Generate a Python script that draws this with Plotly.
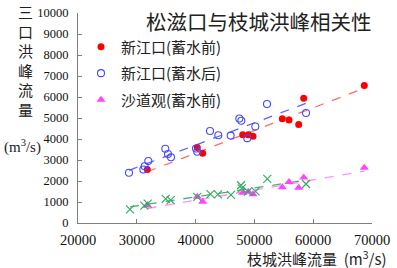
import numpy as np
import plotly.graph_objects as go

# 新江口(蓄水前)
xj_before_x = [31786, 40289, 41207, 48010, 48963, 49762, 54745, 55884, 57534, 58384, 68690]
xj_before_y = [2548, 3594, 3318, 4207, 4207, 4133, 4963, 4899, 4686, 5945, 6544]
# 新江口(蓄水后)
xj_after_x = [28673, 31111, 31338, 31956, 34847, 35306, 35816, 40068, 40289, 42449, 43861,
              45964, 47432, 47772, 48793, 50153, 52143, 58776]
xj_after_y = [2396, 2548, 2705, 2949, 3535, 3286, 3134, 3548, 3396, 4378, 4180,
              4161, 4977, 4871, 4041, 4594, 5668, 5239]
# 沙道观(蓄水前)
sd_before_x = [31786, 40289, 41207, 48010, 48963, 49762, 54745, 55884, 57534, 58384, 68690]
sd_before_y = [830, 1250, 1010, 1442, 1488, 1368, 1705, 1949, 1673, 2166, 2627]
# 沙道观(蓄水后)
sd_after_x = [28844, 31276, 31854, 34915, 35765, 40289, 42530, 43810, 46020, 47721, 47840,
              48900, 50190, 52194, 58776]
sd_after_y = [645, 829, 921, 1152, 1092, 1244, 1375, 1368, 1343, 1797, 1645,
              1490, 1505, 2106, 1857]

x_ticks = [20000, 30000, 40000, 50000, 60000, 70000]
y_ticks = [0, 1000, 2000, 3000, 4000, 5000, 6000, 7000, 8000, 9000, 10000]

title_text = "松滋口与枝城洪峰相关性"
names = ["新江口(蓄水前)", "新江口(蓄水后)", "沙道观(蓄水前)", "沙道观(蓄水后)"]

W, H = 397, 268
L, R, T, B = 78, 25, 6, 45
PW, PH = W - L - R, H - T - B


def px(x):
    return (x - L) / PW


def py(y):
    return 1 - (y - T) / PH


SERIF = "Liberation Serif, Times New Roman, Noto Sans CJK SC"
CJK = "Noto Sans CJK SC, Liberation Serif"

fig = go.Figure()


def trend(xs, ys, color, width=1.3):
    xs = np.array(xs, dtype=float)
    ys = np.array(ys, dtype=float)
    k, b = np.polyfit(xs, ys, 1)
    xx = np.array([xs.min(), xs.max()])
    fig.add_trace(go.Scatter(x=xx, y=k * xx + b, mode="lines",
                             line=dict(color=color, width=width, dash="dash"),
                             showlegend=False, hoverinfo="skip"))


trend(xj_before_x, xj_before_y, "rgba(255,90,90,0.9)")
trend(xj_after_x, xj_after_y, "rgba(80,80,255,0.9)")
trend(sd_after_x, sd_after_y, "rgba(50,170,90,0.9)")
trend(sd_before_x, sd_before_y, "rgba(255,130,255,0.9)")

fig.add_trace(go.Scatter(x=xj_before_x, y=xj_before_y, mode="markers", name=names[0],
                         legendgroup="a",
                         marker=dict(symbol="circle", size=7, color="#ff0000",
                                     line=dict(width=0))))
fig.add_trace(go.Scatter(x=xj_after_x, y=xj_after_y, mode="markers", name=names[1],
                         legendgroup="b",
                         marker=dict(symbol="circle-open", size=7, color="#4848ff",
                                     line=dict(width=1.1))))
fig.add_trace(go.Scatter(x=sd_before_x, y=sd_before_y, mode="markers", name=names[2],
                         legendgroup="c",
                         marker=dict(symbol="triangle-up", size=8, color="#ff44ff",
                                     line=dict(width=0))))
fig.add_trace(go.Scatter(x=sd_after_x, y=sd_after_y, mode="markers", name=names[3],
                         showlegend=False,
                         marker=dict(symbol="x-thin-open", size=8, color="#2eaa5e",
                                     line=dict(width=1.1, color="#2eaa5e"))))

axis_common = dict(showline=True, linecolor="#808080", linewidth=1, ticks="inside",
                   ticklen=4, tickcolor="#808080", showgrid=False, zeroline=False,
                   mirror=False, ticklabeloverflow="allow")

fig.update_layout(
    width=W, height=H, autosize=False,
    margin=dict(l=L, r=R, t=T, b=B, pad=0),
    paper_bgcolor="white", plot_bgcolor="white",
    xaxis=dict(range=[20000, 70000], tickvals=x_ticks, ticktext=[str(v) for v in x_ticks],
               tickfont=dict(family=SERIF, size=14.5, color="#111"),
               ticklabelstandoff=4, **axis_common),
    yaxis=dict(range=[0, 10000], tickvals=y_ticks, ticktext=[str(v) for v in y_ticks],
               tickfont=dict(family=SERIF, size=12.5, color="#111"),
               ticklabelstandoff=6, **axis_common),
    showlegend=True,
    legend=dict(x=px(81), y=py(24), xanchor="left", yanchor="top",
                bgcolor="rgba(0,0,0,0)", borderwidth=0, tracegroupgap=4,
                font=dict(family=CJK, size=15, color="#222"),
                itemsizing="trace"),
    font=dict(family=CJK, color="#222"),
)

fig.add_annotation(text=title_text, x=px(259), y=py(14), xref="paper", yref="paper",
                   showarrow=False, xanchor="center", yanchor="middle",
                   font=dict(family=CJK, size=20.5, color="#222"))
fig.add_annotation(text="<br>".join(list("三口洪峰流量")), x=px(25), y=py(55),
                   xref="paper", yref="paper", showarrow=False, xanchor="center",
                   yanchor="middle", font=dict(family=CJK, size=15, color="#222"))
fig.add_annotation(text="(m<sup>3</sup>/s)", x=px(23), y=py(144), xref="paper", yref="paper",
                   showarrow=False, xanchor="center", yanchor="middle",
                   font=dict(family=SERIF, size=15, color="#222"))
fig.add_annotation(text="枝城洪峰流量  (m<sup>3</sup>/s)", x=px(389), y=py(259.5),
                   xref="paper", yref="paper", showarrow=False, xanchor="right",
                   yanchor="middle", font=dict(family=CJK, size=15, color="#222"))

fig.write_html("out.html", config={"displayModeBar": False},
               post_script="document.body.style.margin='0';document.body.style.padding='0';")
